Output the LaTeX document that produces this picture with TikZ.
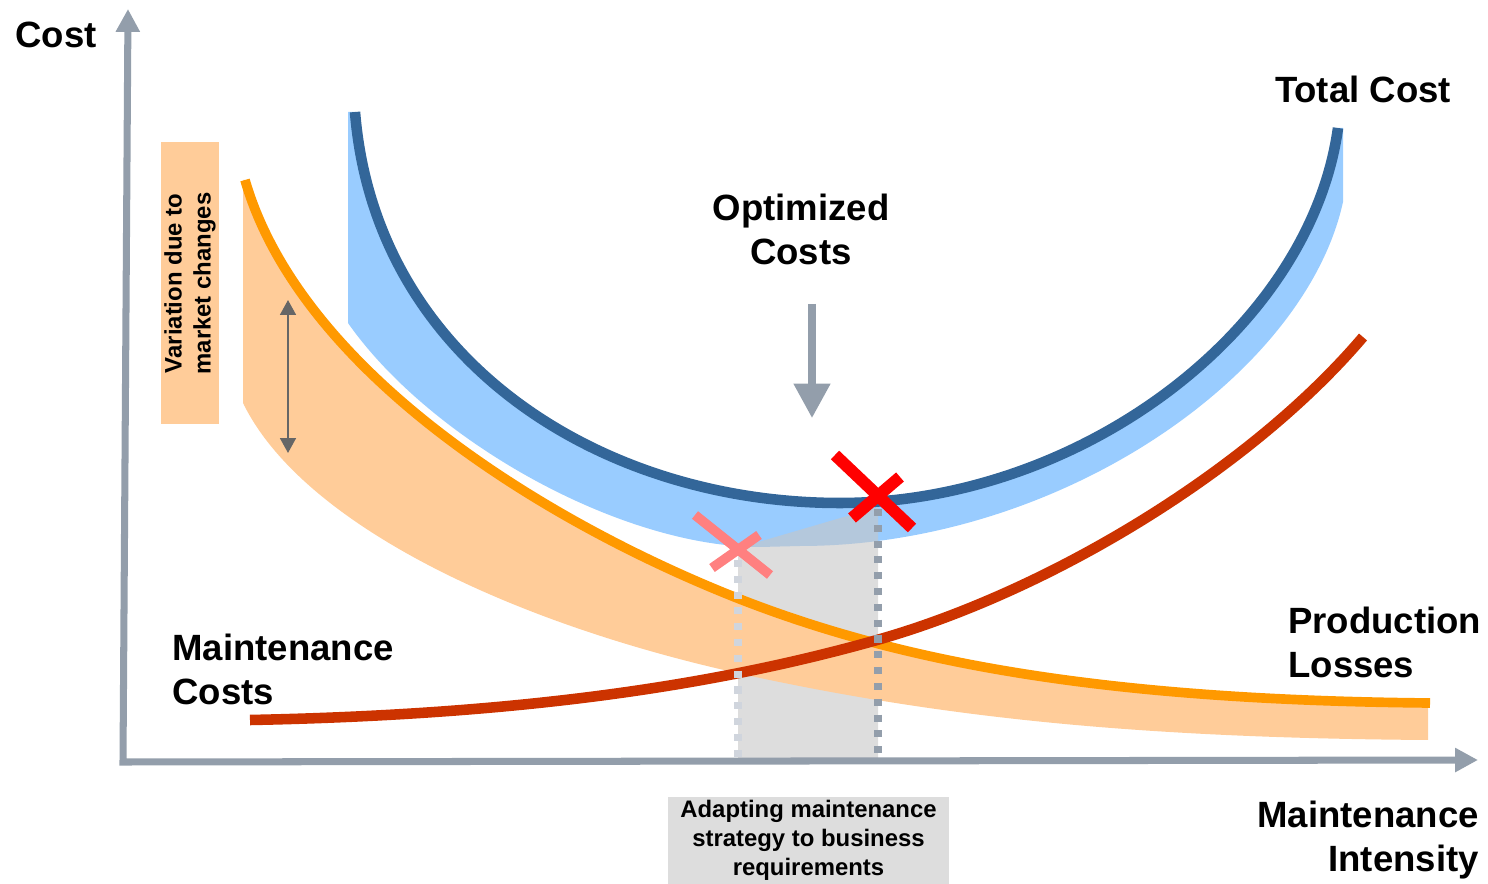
\documentclass[tikz,border=0pt]{standalone}
\usepackage{fontspec}
\setmainfont{Liberation Sans}
\usetikzlibrary{arrows.meta}
\definecolor{axisgray}{HTML}{939EAB}
\definecolor{totalblue}{HTML}{336699}
\definecolor{bandblue}{HTML}{99CCFF}
\definecolor{lossorange}{HTML}{FF9900}
\definecolor{bandorange}{HTML}{FFCC99}
\definecolor{maintred}{HTML}{CC3300}
\definecolor{lightdash}{HTML}{D0D5DD}
\definecolor{pinkx}{HTML}{FF8080}
\definecolor{boxgray}{HTML}{DDDDDD}
\definecolor{arrowgray}{HTML}{666666}
\begin{document}
\begin{tikzpicture}[x=0.02cm,y=-0.02cm,
    biglabel/.style={font=\fontsize{20.8}{25}\selectfont\bfseries,inner sep=0pt,align=center},
    smalllabel/.style={font=\fontsize{13.6}{16.4}\selectfont\bfseries,inner sep=0pt,align=center},
    axisline/.style={axisgray,line width=4pt},
    dashline/.style={line width=4pt,dash pattern=on 4pt off 5pt}]
  \useasboundingbox (0,0) rectangle (1488,884);
  % bands
  \fill[bandblue] (348,112) -- (355,112) .. controls (375,360) and (600,503) .. (840,503)
    .. controls (1080,503) and (1310,330) .. (1338,128) -- (1343,128) -- (1343,202)
    .. controls (1305,375) and (1060,546) .. (800,546) -- (760,547)
    .. controls (620,547) and (430,440) .. (348,323) -- cycle;
  \fill[gray!45,opacity=0.6] (738,548) -- (878,507) -- (878,760) -- (738,760) -- cycle;
  \fill[bandorange] (243,180) -- (245,180) .. controls (300,370) and (540,520) .. (737,598)
    .. controls (900,662) and (1100,700) .. (1428,703) -- (1428,740)
    .. controls (1150,738) and (950,720) .. (737,673) .. controls (500,620) and (300,520) .. (243,403) -- cycle;
  % curves
  \draw[totalblue,line width=6pt] (355,112) .. controls (375,360) and (600,503) .. (840,503)
    .. controls (1080,503) and (1310,330) .. (1338,128);
  \draw[lossorange,line width=5.5pt] (245,180) .. controls (300,370) and (540,520) .. (737,598)
    .. controls (900,662) and (1100,700) .. (1430,703);
  \draw[maintred,line width=6pt] (250,720) .. controls (500,715) and (700,690) .. (877,640)
    .. controls (1050,591) and (1250,470) .. (1363,337);
  % axes
  \coordinate (origin) at (123,762);
  \coordinate (costtip) at (128,9);
  \coordinate (intensitytip) at (1478,760);
  \draw[axisline,{Triangle[width=13pt,length=13pt]}-{Triangle[width=13pt,length=13pt]}] (costtip) -- (origin) -- (intensitytip);
  \draw[lightdash,dashline] (738,560) -- (738,760);
  \draw[axisgray,dashline] (878,509) -- (878,760);
  \draw[pinkx,line width=5.5pt] (695,515) -- (770,575) (712,568) -- (759,535);
  \draw[red,line width=6.8pt] (835,455) -- (912,528) (852,518) -- (900,477);
  % labels
  \node[biglabel] (cost) at (56,34.5) {Cost};
  \node[biglabel] (total) at (1363,89) {Total Cost};
  \node[biglabel] (optimized) at (801,229.5) {Optimized\\Costs};
  \node[biglabel,anchor=west,align=left] (maintcosts) at (172,669) {Maintenance\\Costs};
  \node[biglabel,anchor=west,align=left] (losses) at (1288,642) {Production\\Losses};
  \node[biglabel,anchor=east,align=right] (intensity) at (1479,840) {Maintenance\\Intensity};
  \node[smalllabel,fill=bandorange,rotate=90,minimum width=160.5pt,minimum height=32.9pt] (variation) at (190,283.5) {Variation due to\\market changes};
  \node[smalllabel,fill=boxgray,minimum width=160.4pt,minimum height=49.3pt] (strategy) at (808.5,840.5) {Adapting maintenance\\strategy to business\\requirements};
  % arrows
  \coordinate (optstart) at (812,304);
  \coordinate (opttip) at (812,418);
  \draw[axisline,-{Triangle[width=20pt,length=19.5pt]}] (optstart) -- (opttip);
  \coordinate (varup) at (288,300);
  \coordinate (vardown) at (288,453);
  \draw[arrowgray,line width=1.2pt,{Triangle[width=9pt,length=8.5pt]}-{Triangle[width=9pt,length=8.5pt]}] (varup) -- (vardown);
\end{tikzpicture}
\end{document}
